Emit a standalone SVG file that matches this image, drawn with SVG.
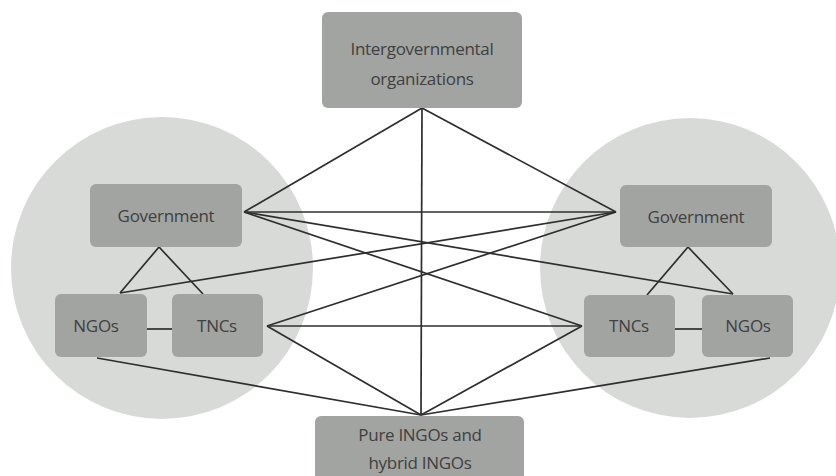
<svg xmlns="http://www.w3.org/2000/svg" width="836" height="476" viewBox="0 0 836 476">
<defs>
<style>
.circ{fill:#d8dad8}
.box{fill:#a2a4a2}
.lbl{font-family:"Open Sans","Noto Sans",sans-serif;font-size:17px;fill:#404040;text-anchor:middle;dominant-baseline:central;letter-spacing:-0.3px}
.ln{stroke:#2e2e2e;stroke-width:1.7;fill:none}
</style>
</defs>
<rect width="836" height="476" fill="#ffffff"/>
<circle class="circ" cx="162" cy="268" r="151"/>
<circle class="circ" cx="690" cy="268" r="150"/>
<g id="connectors">
<line class="ln" x1="422" y1="108" x2="244" y2="212"/>
<line class="ln" x1="422" y1="108" x2="616" y2="212"/>
<line class="ln" x1="422" y1="108" x2="421" y2="415"/>
<line class="ln" x1="244" y1="212" x2="616" y2="212"/>
<line class="ln" x1="244" y1="212" x2="733" y2="294"/>
<line class="ln" x1="244" y1="212" x2="582" y2="326"/>
<line class="ln" x1="616" y1="212" x2="120" y2="293"/>
<line class="ln" x1="616" y1="212" x2="267" y2="326"/>
<line class="ln" x1="267" y1="326" x2="582" y2="326"/>
<line class="ln" x1="267" y1="326" x2="421" y2="415"/>
<line class="ln" x1="582" y1="326" x2="421" y2="415"/>
<line class="ln" x1="97" y1="358" x2="421" y2="415"/>
<line class="ln" x1="770" y1="358" x2="421" y2="415"/>
<polyline class="ln" points="120,293 159,247 203,294"/>
<polyline class="ln" points="647,295 688,247 733,294"/>
<line class="ln" x1="147" y1="329" x2="172" y2="329"/>
<line class="ln" x1="675" y1="329" x2="702" y2="329"/>
</g>
<g id="igo">
<rect class="box" x="322" y="12" width="200" height="96" rx="6"/>
<text class="lbl" x="422" y="48">Intergovernmental</text>
<text class="lbl" x="422" y="78">organizations</text>
</g>
<g id="gov-left">
<rect class="box" x="90" y="184" width="152" height="63" rx="6"/>
<text class="lbl" x="166" y="215">Government</text>
</g>
<g id="ngos-left">
<rect class="box" x="55" y="294" width="92" height="63" rx="6"/>
<text class="lbl" x="96" y="325">NGOs</text>
</g>
<g id="tncs-left">
<rect class="box" x="172" y="294" width="91" height="63" rx="6"/>
<text class="lbl" x="217" y="325">TNCs</text>
</g>
<g id="gov-right">
<rect class="box" x="620" y="185" width="152" height="62" rx="6"/>
<text class="lbl" x="696" y="216">Government</text>
</g>
<g id="tncs-right">
<rect class="box" x="584" y="295" width="91" height="62" rx="6"/>
<text class="lbl" x="629" y="325">TNCs</text>
</g>
<g id="ngos-right">
<rect class="box" x="702" y="295" width="91" height="62" rx="6"/>
<text class="lbl" x="748" y="325">NGOs</text>
</g>
<g id="ingos">
<rect class="box" x="315" y="416" width="209" height="70" rx="6"/>
<text class="lbl" x="420" y="434">Pure INGOs and</text>
<text class="lbl" x="420" y="462">hybrid INGOs</text>
</g>
</svg>
